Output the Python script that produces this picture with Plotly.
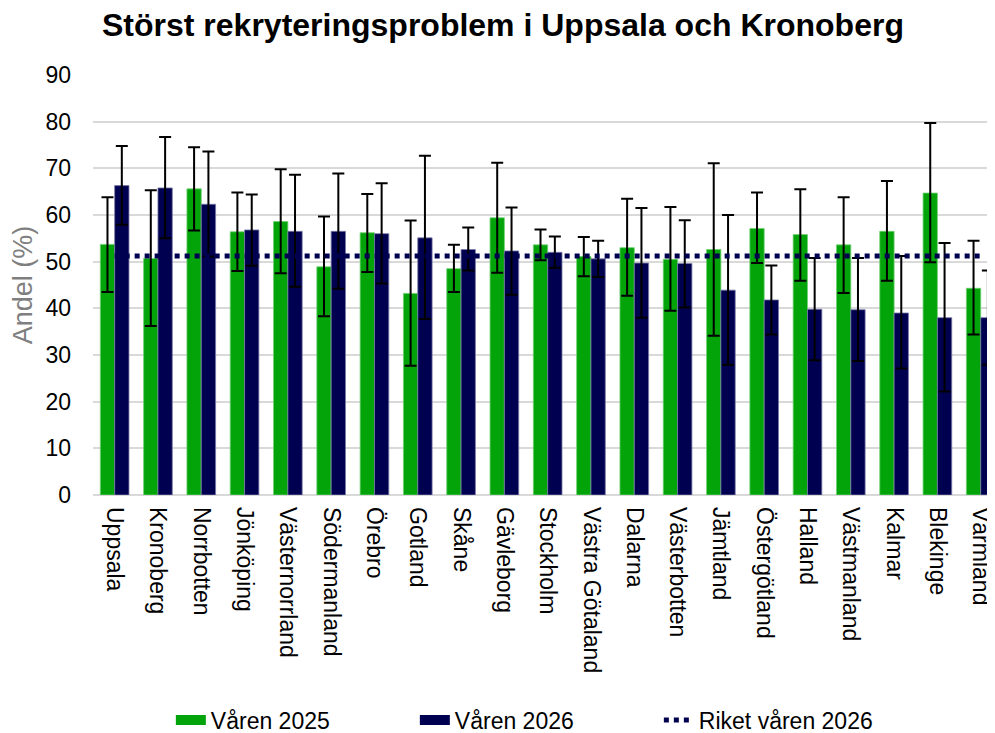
import plotly.graph_objects as go

categories = ["Uppsala", "Kronoberg", "Norrbotten", "Jönköping", "Västernorrland",
              "Södermanland", "Örebro", "Gotland", "Skåne", "Gävleborg", "Stockholm",
              "Västra Götaland", "Dalarna", "Västerbotten", "Jämtland", "Östergötland",
              "Halland", "Västmanland", "Kalmar", "Blekinge", "Värmland"]

v2025 = [53.7, 50.7, 65.6, 56.4, 58.6, 48.9, 56.2, 43.2, 48.5, 59.4, 53.6,
         51.1, 53.0, 50.5, 52.6, 57.1, 55.8, 53.6, 56.5, 64.7, 44.3]
v2025_hi = [63.8, 65.3, 74.5, 64.8, 69.8, 59.7, 64.5, 58.8, 53.6, 71.2, 56.9,
            55.3, 63.5, 61.7, 71.1, 64.8, 65.5, 63.8, 67.3, 79.7, 54.5]
v2025_lo = [43.5, 36.2, 56.7, 48.0, 47.5, 38.3, 47.8, 27.7, 43.5, 47.6, 50.3,
            46.9, 42.7, 39.5, 34.1, 49.7, 45.9, 43.3, 45.9, 49.9, 34.4]

v2026 = [66.3, 65.8, 62.3, 56.8, 56.5, 56.5, 56.0, 55.1, 52.6, 52.3, 52.0,
         50.6, 49.7, 49.6, 43.9, 41.8, 39.8, 39.7, 39.0, 38.0, 38.0]
v2026_hi = [74.8, 76.7, 73.6, 64.4, 68.6, 68.9, 66.8, 72.7, 57.3, 61.6, 55.4,
            54.5, 61.5, 58.9, 60.0, 49.2, 50.8, 50.8, 51.2, 54.0, 48.1]
v2026_lo = [57.9, 55.0, 51.1, 49.1, 44.6, 44.2, 45.3, 37.7, 48.1, 42.9, 48.7,
            46.7, 38.0, 40.2, 27.9, 34.4, 28.9, 28.7, 27.1, 22.2, 27.9]

riket_2026 = 51.2

GREEN = "#03A30A"
NAVY = "#000050"
FONT = "Liberation Sans, Arial, sans-serif"

def err(vals, hi, lo):
    return dict(type="data", symmetric=False,
                array=[h - v for h, v in zip(hi, vals)],
                arrayminus=[v - l for l, v in zip(lo, vals)],
                color="black", thickness=2, width=6)

fig = go.Figure()
fig.add_trace(go.Bar(x=categories, y=v2025, name="Våren 2025", showlegend=False,
                     marker=dict(color=GREEN, line=dict(color="#6fd070", width=0.8)),
                     error_y=err(v2025, v2025_hi, v2025_lo)))
fig.add_trace(go.Bar(x=categories, y=v2026, name="Våren 2026", showlegend=False,
                     marker=dict(color=NAVY, line=dict(color="#7a7aa8", width=0.8)),
                     error_y=err(v2026, v2026_hi, v2026_lo)))
fig.add_trace(go.Scatter(x=categories, y=[riket_2026] * len(categories), mode="lines",
                         name="Riket våren 2026", showlegend=False,
                         line=dict(color=NAVY, width=5, dash="5px,5px")))

# legend proxies
fig.add_trace(go.Scatter(x=[None], y=[None], mode="lines", name="Våren 2025",
                         line=dict(color=GREEN, width=10)))
fig.add_trace(go.Scatter(x=[None], y=[None], mode="lines", name="Våren 2026",
                         line=dict(color=NAVY, width=10)))
fig.add_trace(go.Scatter(x=[None], y=[None], mode="lines", name="Riket våren 2026",
                         line=dict(color=NAVY, width=5, dash="5px,5px")))

fig.update_layout(
    width=987, height=725,
    margin=dict(l=85, r=0, t=67, b=238, autoexpand=False),
    paper_bgcolor="white", plot_bgcolor="white",
    font=dict(family=FONT, color="black", size=23),
    title=dict(text="<b>Störst rekryteringsproblem i Uppsala och Kronoberg</b>",
               x=0.5015, xanchor="center", y=0.9766, yanchor="middle", automargin=False,
               font=dict(size=32, color="black", family=FONT)),
    barmode="group", bargap=0.338, bargroupgap=0,
    legend=dict(orientation="h", xref="container", yref="container",
                x=0.165, xanchor="left", y=0.018, yanchor="middle",
                font=dict(size=23, family=FONT), entrywidth=199,
                bgcolor="rgba(0,0,0,0)"),
    xaxis=dict(range=[-0.5, 20.33], tickangle=90, showgrid=False, automargin=False,
               tickfont=dict(size=23), ticklabelstandoff=11,
               showline=False, zeroline=False),
    yaxis=dict(range=[0, 90], dtick=10, showgrid=True, gridcolor="#d9d9d9", automargin=False,
               gridwidth=1.5, zeroline=True, zerolinecolor="#d9d9d9", zerolinewidth=1.5,
               tickfont=dict(size=23), ticklabelstandoff=21,
               title=dict(text="Andel (%)", font=dict(size=27, color="#7f7f7f"), standoff=17)),
)

fig.write_html("out.html")
